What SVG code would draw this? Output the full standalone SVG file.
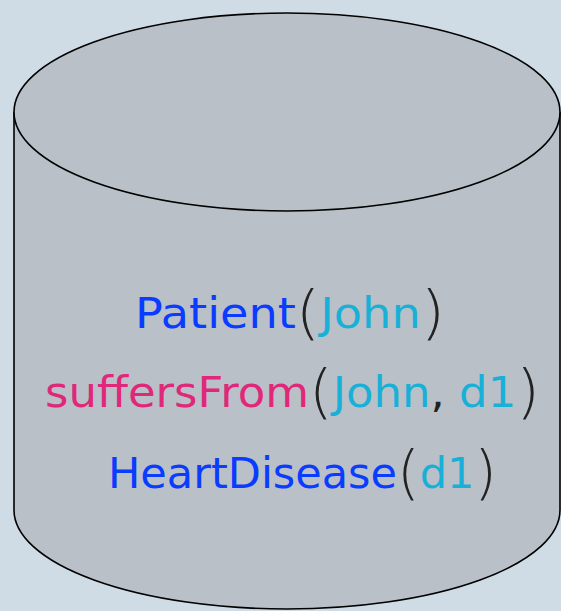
<svg xmlns="http://www.w3.org/2000/svg" width="561" height="611" viewBox="0 0 561 611">
<style>
.shape{fill:#b9c0c7;stroke:#000;stroke-width:1.6}
.t{font-family:"DejaVu Sans",sans-serif;font-size:43px}
.pred{fill:#0a3cff}
.rel{fill:#e0287a}
.ind{fill:#19b0d8}
.par{fill:#222;font-size:58px;font-weight:200}
</style>
<rect width="561" height="611" fill="#cfdce6"/>
<g id="cylinder">
<path class="shape" d="M14,112 L14,510 A273,99 0 0 0 560,510 L560,112"/>
<ellipse class="shape" cx="287" cy="112" rx="273" ry="99"/>
</g>
<g id="facts">
<text class="t" x="135" y="328" textLength="310" lengthAdjust="spacingAndGlyphs"><tspan class="pred">Patient</tspan><tspan class="par" dy="5">(</tspan><tspan class="ind" dy="-5">John</tspan><tspan class="par" dy="5">)</tspan></text>
<text class="t" x="45" y="407" textLength="495" lengthAdjust="spacingAndGlyphs"><tspan class="rel">suffersFrom</tspan><tspan class="par" dy="5">(</tspan><tspan class="ind" dy="-5">John</tspan><tspan fill="#222">, </tspan><tspan class="ind">d1</tspan><tspan class="par" dy="5">)</tspan></text>
<text class="t" x="108" y="488" textLength="389" lengthAdjust="spacingAndGlyphs"><tspan class="pred">HeartDisease</tspan><tspan class="par" dy="5">(</tspan><tspan class="ind" dy="-5">d1</tspan><tspan class="par" dy="5">)</tspan></text>
</g>
</svg>
